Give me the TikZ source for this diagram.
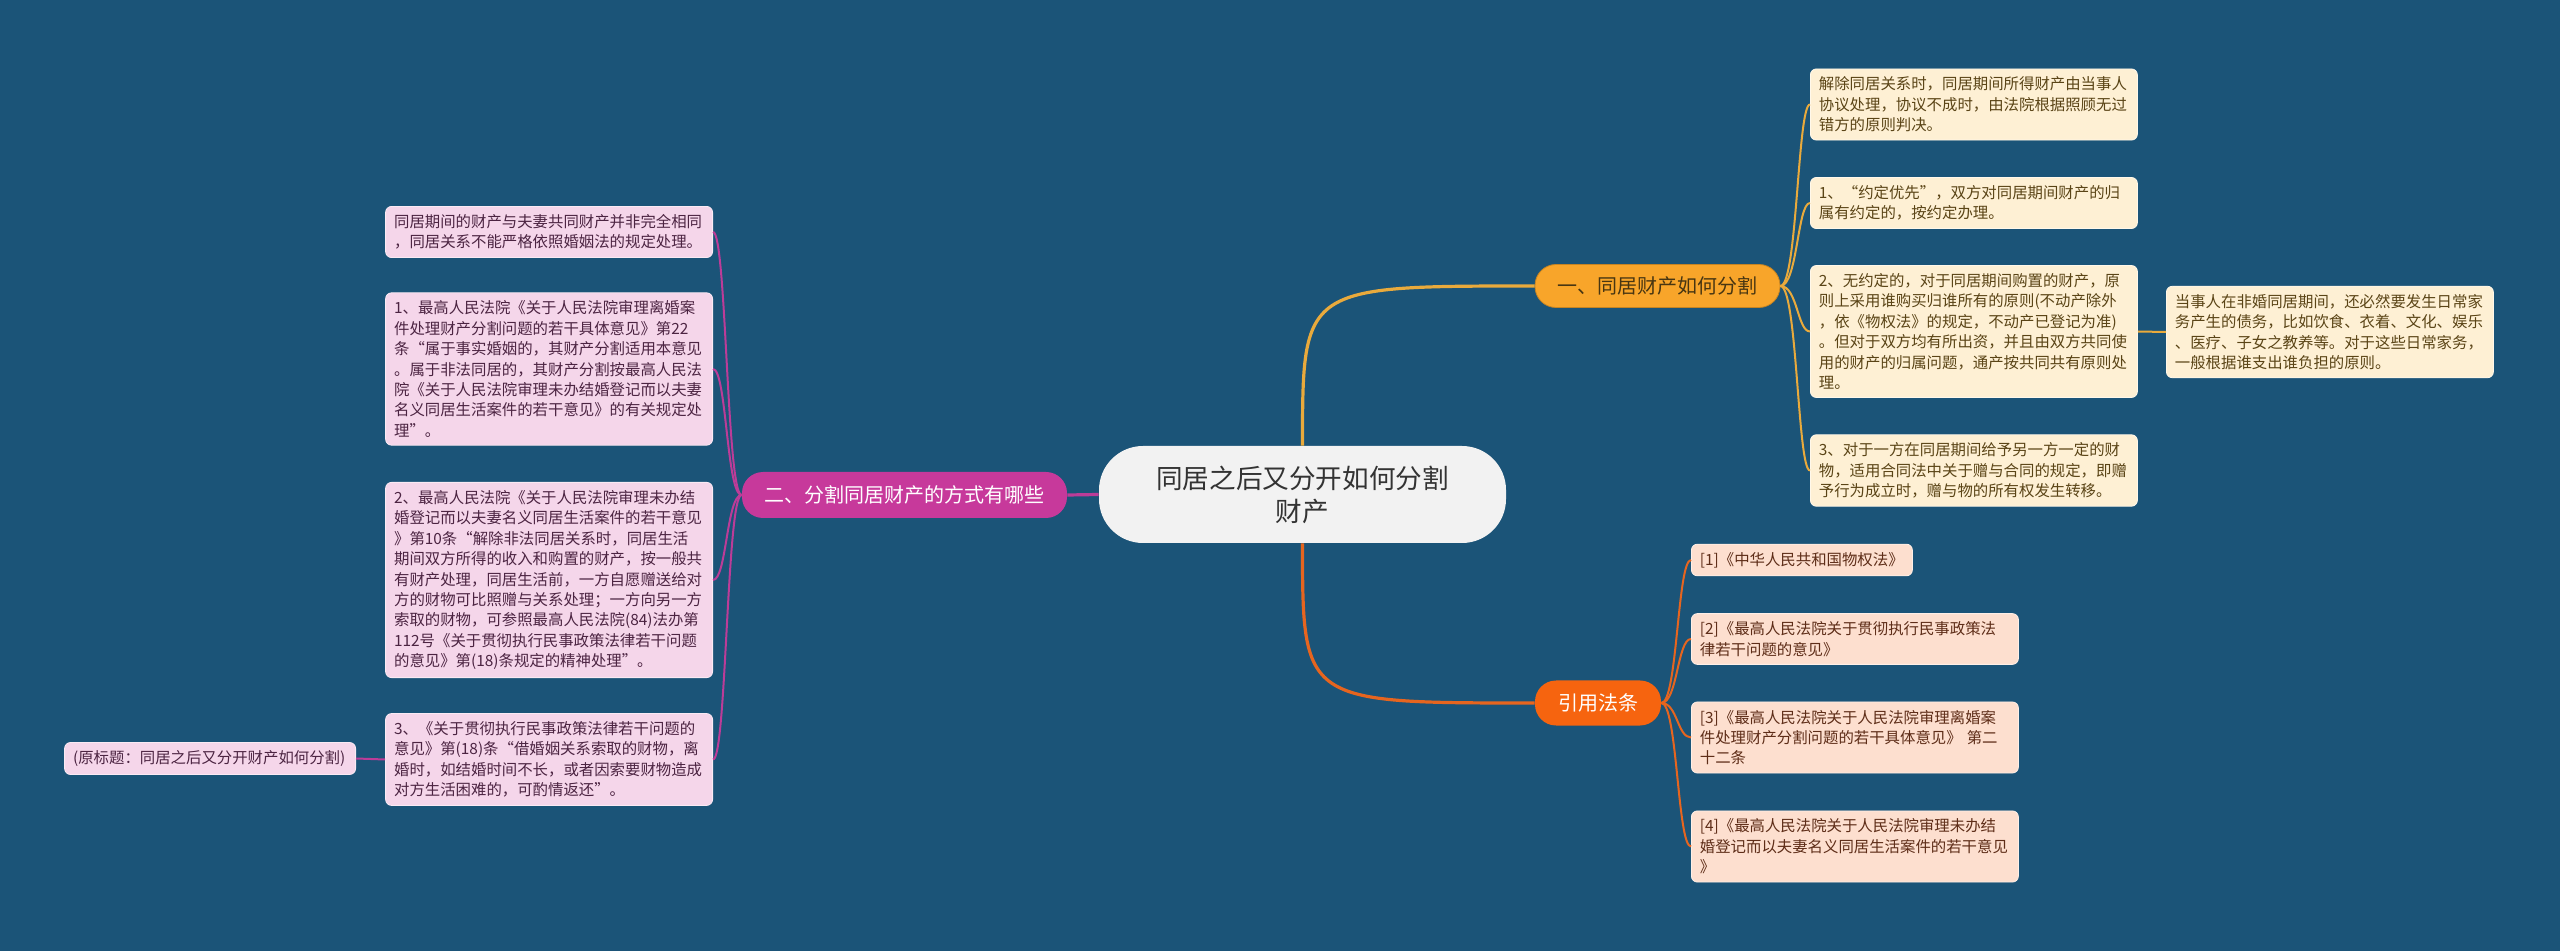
\documentclass[tikz,border=0pt]{standalone}
\usepackage{fontspec}
\setmainfont{Noto Sans CJK SC}
\usetikzlibrary{calc}
\definecolor{mapbg}{HTML}{1B5478}
\definecolor{rootfill}{HTML}{F2F2F2}
\definecolor{orangeA}{HTML}{F8A52A}
\definecolor{orangeline}{HTML}{E9AA3C}
\definecolor{orangeB}{HTML}{F6640F}
\definecolor{orangeBline}{HTML}{E6651F}
\definecolor{magentaA}{HTML}{C7399B}
\definecolor{magentaline}{HTML}{BC3C98}
\definecolor{creamfill}{HTML}{FEF0D4}
\definecolor{peachfill}{HTML}{FDDFCF}
\definecolor{pinkfill}{HTML}{F5D6EA}
\definecolor{browntext}{HTML}{5A4416}
\definecolor{redtext}{HTML}{5E2D18}
\definecolor{plumtext}{HTML}{4C2442}

\begin{document}
\begin{tikzpicture}[x=0.5pt,y=-0.5pt,
  note/.style={rounded corners=3pt,align=left,text width=155pt,inner xsep=4.25pt,inner ysep=4pt,font=\fontsize{7.7}{10.2}\selectfont},
  creamnote/.style={note,fill=creamfill,draw=creamfill!50!white,text=browntext},
  peachnote/.style={note,fill=peachfill,draw=peachfill!50!white,text=redtext},
  pinknote/.style={note,fill=pinkfill,draw=pinkfill!50!white,text=plumtext},
  topic/.style={rounded corners=10.5pt,minimum height=21.5pt,inner xsep=6pt,font=\fontsize{10}{12}\selectfont},
  link/.style={line width=1pt},
  trunk/.style={line width=1.6pt}]
  \useasboundingbox[fill=mapbg] (0,0) rectangle (2560,951);

  % central topic and main branches
  \node[rounded corners=22pt,fill=rootfill,text=black!80,minimum width=203.5pt,minimum height=48.5pt,text width=150pt,align=center,font=\fontsize{13.3}{16.5}\selectfont] (root) at (1302.5,494.5) {同居之后又分开如何分割\\财产};
  \node[topic,fill=orangeA,draw=orangeA!80!black,text=browntext!80!black,minimum width=122.5pt] (b1) at (1657.5,286) {一、同居财产如何分割};
  \node[topic,fill=magentaA,text=white,minimum width=162.5pt,minimum height=23pt] (b2) at (904.5,495) {二、分割同居财产的方式有哪些};
  \node[topic,fill=orangeB,text=white,minimum width=63pt,minimum height=22.5pt] (b3) at (1598,703) {引用法条};

  \draw[trunk,orangeline] (root.north) .. controls (root.north |- b1.west) .. (b1.west);
  \draw[trunk,orangeBline] (root.south) .. controls (root.south |- b3.west) .. (b3.west);
  \draw[trunk,magentaline] (root.west) -- (b2.east);

  % branch one
  \node[creamnote,anchor=west] (c1) at (1810,104.5) {解除同居关系时，同居期间所得财产由当事人\\协议处理，协议不成时，由法院根据照顾无过\\错方的原则判决。};
  \node[creamnote,anchor=west] (c2) at (1810,203) {1、“约定优先”，双方对同居期间财产的归\\属有约定的，按约定办理。};
  \node[creamnote,anchor=west] (c3) at (1810,331.5) {2、无约定的，对于同居期间购置的财产，原\\则上采用谁购买归谁所有的原则(不动产除外\\，依《物权法》的规定，不动产已登记为准)\\。但对于双方均有所出资，并且由双方共同使\\用的财产的归属问题，通产按共同共有原则处\\理。};
  \node[creamnote,anchor=west] (c4) at (1810,470.5) {3、对于一方在同居期间给予另一方一定的财\\物，适用合同法中关于赠与合同的规定，即赠\\予行为成立时，赠与物的所有权发生转移。};
  \node[creamnote,anchor=west] (d1) at (2166,332) {当事人在非婚同居期间，还必然要发生日常家\\务产生的债务，比如饮食、衣着、文化、娱乐\\、医疗、子女之教养等。对于这些日常家务，\\一般根据谁支出谁负担的原则。};
  \coordinate (s1) at ($(b1.east)+(17,0)$);
  \foreach \n in {c1,c2,c3,c4}
    \draw[link,orangeline] (b1.east) .. controls (s1) and (s1 |- \n.west) .. (\n.west);
  \draw[link,orangeline] (c3.east) -- (d1.west);

  % branch two
  \node[pinknote,anchor=east] (l1) at (713,232) {同居期间的财产与夫妻共同财产并非完全相同\\，同居关系不能严格依照婚姻法的规定处理。};
  \node[pinknote,anchor=east] (l2) at (713,369) {1、最高人民法院《关于人民法院审理离婚案\\件处理财产分割问题的若干具体意见》第22\\条“属于事实婚姻的，其财产分割适用本意见\\。属于非法同居的，其财产分割按最高人民法\\院《关于人民法院审理未办结婚登记而以夫妻\\名义同居生活案件的若干意见》的有关规定处\\理”。};
  \node[pinknote,anchor=east] (l3) at (713,580) {2、最高人民法院《关于人民法院审理未办结\\婚登记而以夫妻名义同居生活案件的若干意见\\》第10条“解除非法同居关系时，同居生活\\期间双方所得的收入和购置的财产，按一般共\\有财产处理，同居生活前，一方自愿赠送给对\\方的财物可比照赠与关系处理；一方向另一方\\索取的财物，可参照最高人民法院(84)法办第\\112号《关于贯彻执行民事政策法律若干问题\\的意见》第(18)条规定的精神处理”。};
  \node[pinknote,anchor=east] (l4) at (713,759.5) {3、《关于贯彻执行民事政策法律若干问题的\\意见》第(18)条“借婚姻关系索取的财物，离\\婚时，如结婚时间不长，或者因索要财物造成\\对方生活困难的，可酌情返还”。};
  \node[pinknote,anchor=east,text width=137pt] (src) at (356,758.5) {(原标题：同居之后又分开财产如何分割)};
  \coordinate (s2) at ($(b2.west)+(-15,0)$);
  \foreach \n in {l1,l2,l3,l4}
    \draw[link,magentaline] (b2.west) .. controls (s2) and (s2 |- \n.east) .. (\n.east);
  \draw[link,magentaline] (l4.west) -- (src.east);

  % branch three
  \node[peachnote,anchor=west,text width=102pt] (r1) at (1691,560) {[1]《中华人民共和国物权法》};
  \node[peachnote,anchor=west] (r2) at (1691,639) {[2]《最高人民法院关于贯彻执行民事政策法\\律若干问题的意见》};
  \node[peachnote,anchor=west] (r3) at (1691,737.5) {[3]《最高人民法院关于人民法院审理离婚案\\件处理财产分割问题的若干具体意见》 第二\\十二条};
  \node[peachnote,anchor=west] (r4) at (1691,846.5) {[4]《最高人民法院关于人民法院审理未办结\\婚登记而以夫妻名义同居生活案件的若干意见\\》};
  \coordinate (s3) at ($(b3.east)+(16,0)$);
  \foreach \n in {r1,r2,r3,r4}
    \draw[link,orangeBline] (b3.east) .. controls (s3) and (s3 |- \n.west) .. (\n.west);
\end{tikzpicture}
\end{document}
